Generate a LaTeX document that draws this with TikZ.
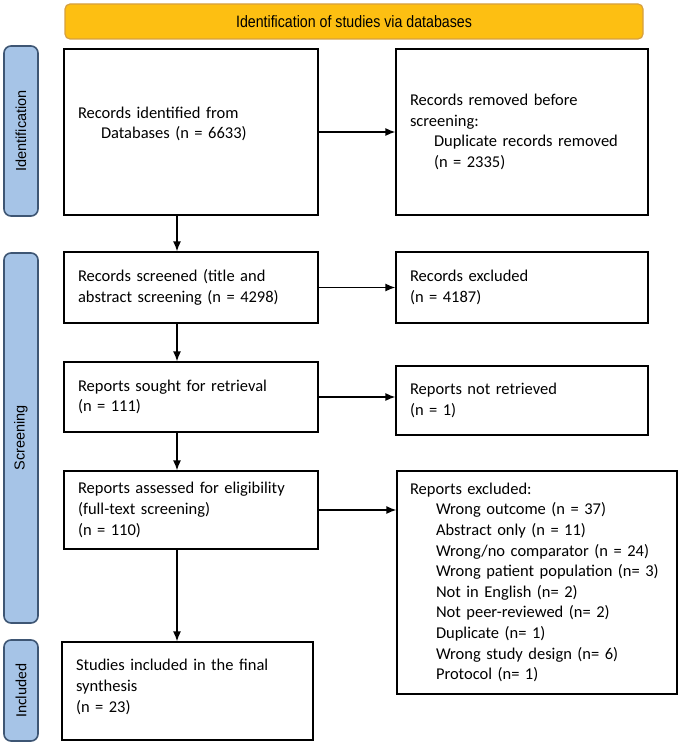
\documentclass[tikz,border=0pt]{standalone}
\usepackage{fontspec}
\setmainfont{Carlito}
\newfontfamily\bannerfont{Liberation Sans}[FakeStretch=0.86]
\newfontfamily\sidefont{Liberation Sans}
\usetikzlibrary{arrows.meta,calc}
\definecolor{bannerfill}{RGB}{253,191,18}
\definecolor{bannerdraw}{RGB}{214,160,64}
\definecolor{phasefill}{RGB}{166,196,231}
\definecolor{phasedraw}{RGB}{62,86,116}

\begin{document}
\begin{tikzpicture}[x=1pt,y=-1pt,
		box/.style={draw=black, line width=1.3pt, align=left, inner xsep=14pt, inner ysep=0pt,
			font=\fontsize{16.5}{20.6}\selectfont},
		phase/.style={draw=phasedraw, fill=phasefill, line width=1.6pt, rounded corners=7pt,
			minimum height=34pt, inner sep=0pt, rotate=90, font=\sidefont\fontsize{14.5}{14.5}\selectfont},
		arr/.style={line width=1.3pt, -{Latex[length=10pt,width=8pt]}}]
		%%%%% START %%%%%
		\useasboundingbox (0,0) rectangle (682,746);
		
		\node[draw=bannerdraw, fill=bannerfill, line width=1.2pt, rounded corners=5pt,
			minimum width=578pt, minimum height=35pt, font=\bannerfont\fontsize{16.5}{16.5}\selectfont]
			(banner) at (354,21.5) {Identification of studies via databases};
		
		\node[phase, minimum width=170pt] (idphase) at (21,131) {Identification};
		\node[phase, minimum width=370pt] (scrphase) at (21,438) {Screening};
		\node[phase, minimum width=101pt, font=\fontsize{15.5}{15.5}\selectfont] (incphase) at (21,690.5) {Included};
		
		\node[box, text width=226pt, minimum height=166pt] (ident) at (191,132)
			{Records identified from\\\hspace*{23pt}Databases (n = 6633)\\[-2pt]\mbox{}};
		\node[box, text width=224pt, minimum height=166pt] (removed) at (522,132)
			{Records removed before\\screening:\\\hspace*{24pt}Duplicate records removed\\\hspace*{24pt}(n = 2335)};
		
		\node[box, text width=226pt, minimum height=71pt] (screened) at (191,287.5)
			{Records screened (title and\\abstract screening (n = 4298)};
		\node[box, text width=224pt, minimum height=71pt] (excluded) at (522,287.5)
			{Records excluded\\(n = 4187)};
		
		\node[box, text width=226pt, minimum height=70pt] (sought) at (191,397)
			{Reports sought for retrieval\\(n = 111)};
		\node[box, text width=224pt, minimum height=69pt] (notret) at (522,400.5)
			{Reports not retrieved\\(n = 1)};
		
		\node[box, text width=226pt, minimum height=78pt] (assessed) at (191,510)
			{Reports assessed for eligibility\\(full-text screening)\\(n = 110)};
		\node[box, text width=254pt, minimum height=223pt, inner xsep=13pt] (rexcl) at (537,582.5)
			{Reports excluded:\\
			\hspace*{26pt}Wrong outcome (n = 37)\\
			\hspace*{26pt}Abstract only (n = 11)\\
			\hspace*{26pt}Wrong/no comparator (n = 24)\\
			\hspace*{26pt}Wrong patient population (n= 3)\\
			\hspace*{26pt}Not in English (n= 2)\\
			\hspace*{26pt}Not peer-reviewed (n= 2)\\
			\hspace*{26pt}Duplicate (n= 1)\\
			\hspace*{26pt}Wrong study design (n= 6)\\
			\hspace*{26pt}Protocol (n= 1)};
		
		\node[box, text width=223pt, minimum height=98pt] (included) at (187.5,691)
			{Studies included in the final\\synthesis\\(n = 23)\\[-10pt]\mbox{}};
		
		\coordinate (spine) at (177,0);
		\draw[arr] (spine |- ident.south) -- (spine |- screened.north);
		\draw[arr] (spine |- screened.south) -- (spine |- sought.north);
		\draw[arr] (spine |- sought.south) -- (spine |- assessed.north);
		\draw[arr] (spine |- assessed.south) -- (spine |- included.north);
		
		\draw[arr] (ident.east) -- (ident.east -| removed.west);
		\draw[arr] (screened.east) -- (screened.east -| excluded.west);
		\draw[arr] (sought.east) -- (sought.east -| notret.west);
		\draw[arr] (assessed.east) -- (assessed.east -| rexcl.west);
		%%%%% END %%%%%
\end{tikzpicture}
\end{document}
